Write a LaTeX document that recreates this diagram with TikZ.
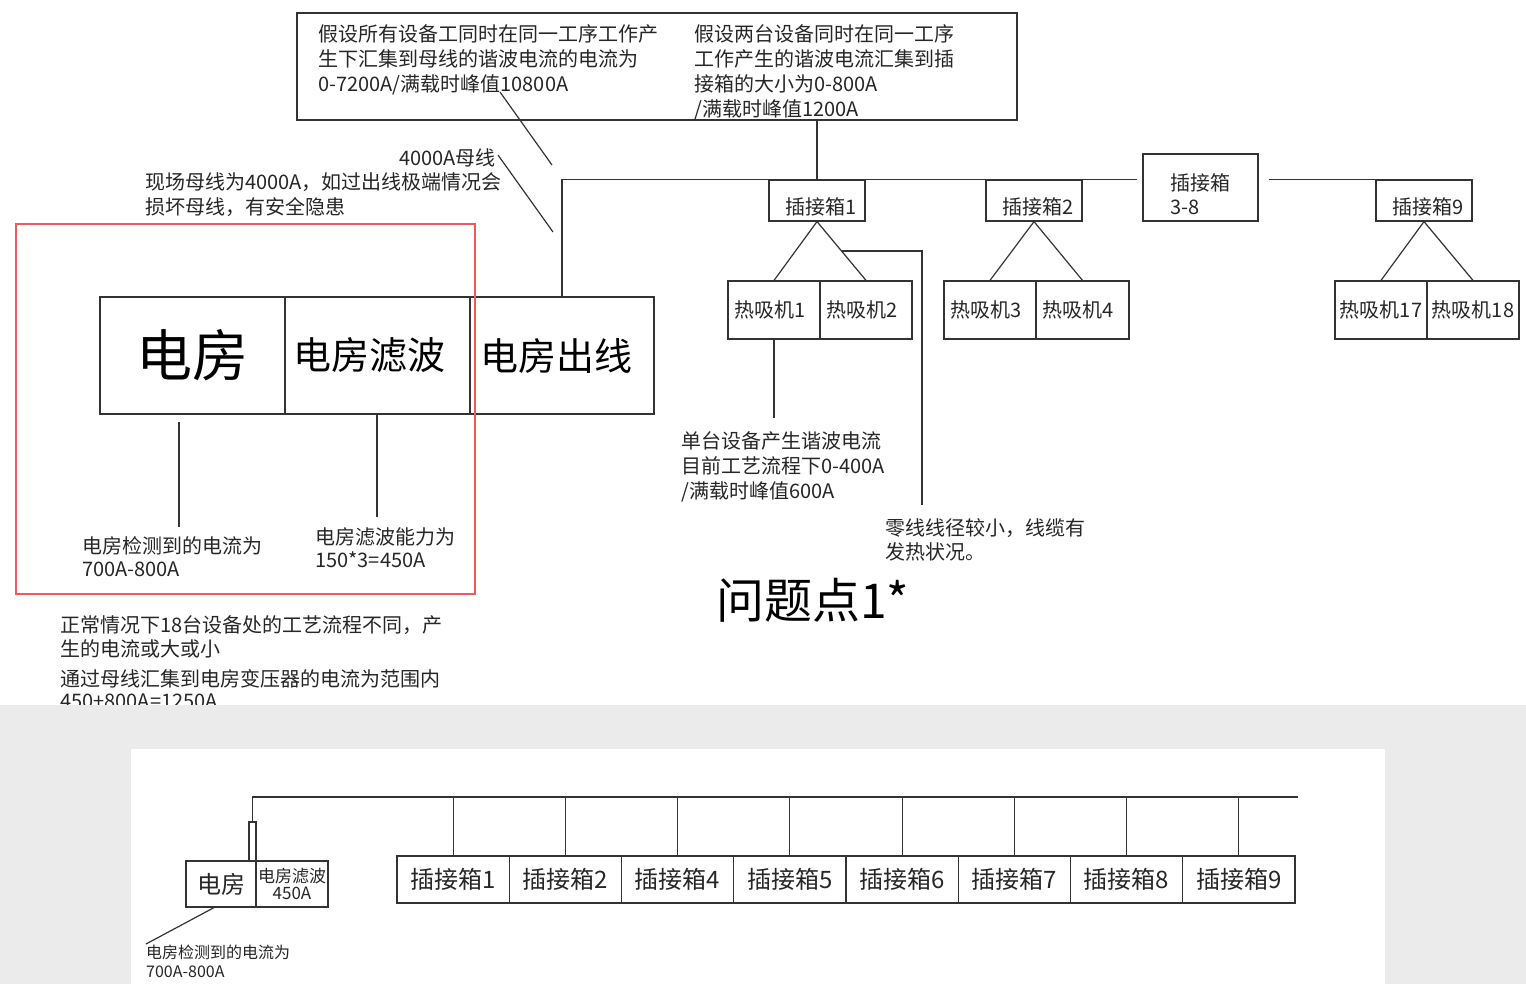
\documentclass[tikz,border=0pt]{standalone}
\usepackage{fontspec}
\setmainfont{Noto Sans CJK SC}
\usetikzlibrary{positioning,calc}
\definecolor{redframe}{RGB}{238,90,90}
\definecolor{backgray}{RGB}{235,235,235}

\tikzset{
  wire/.style={line width=1.2pt, draw=black!80},
  unit/.style={draw=black!80, line width=1.2pt, inner sep=0pt, minimum width=92pt, minimum height=58pt, text=black!85, font=\fontsize{20}{24}\selectfont},
  plug/.style={unit, minimum width=96pt, minimum height=41pt, text height=29pt, text depth=0pt},
  note/.style={anchor=north west, align=left, inner sep=0pt, text=black!85, font=\fontsize{20}{25}\selectfont},
}

\begin{document}
\begin{tikzpicture}[x=1pt,y=-1pt]
\useasboundingbox (0,0) rectangle (1526,984);

% upper sketch: assumptions
\node[draw=black!80, line width=1.2pt, minimum width=720pt, minimum height=107pt, inner sep=0pt] (assume) at (657,66.5) {};
\node[note] (allnote) at (318,24) {假设所有设备工同时在同一工序工作产\\生下汇集到母线的谐波电流的电流为\\0-7200A/满载时峰值10800A};
\node[note] (twonote) at (694,24) {假设两台设备同时在同一工序\\工作产生的谐波电流汇集到插\\接箱的大小为0-800A\\/满载时峰值1200A};

% electric room
\node[unit, minimum width=185pt, minimum height=117pt, text=black, font=\fontsize{56}{60}\selectfont] (room) at (192.5,355.5) {电房};
\node[unit, minimum width=185pt, minimum height=117pt, text=black, font=\fontsize{38}{40}\selectfont] (filter) at (377.5,355.5) {电房滤波\hspace*{16pt}};
\node[unit, minimum width=184pt, minimum height=117pt, text=black, font=\fontsize{38}{40}\selectfont] (outlet) at (562,355.5) {电房出线\hspace*{12pt}};

% plug boxes and units
\node[plug] (box1) at (817,200.5) {\hspace*{8pt}插接箱1};
\node[plug] (box2) at (1034,200.5) {\hspace*{8pt}插接箱2};
\node[unit, minimum width=115pt, minimum height=67pt, align=left, text height=54pt] (box38) at (1200.5,187.5) {插接箱\\3-8};
\node[plug] (box9) at (1424,200.5) {\hspace*{8pt}插接箱9};
\node[unit] (hp1) at (774,310) {热吸机1\hspace*{8pt}};
\node[unit] (hp2) at (866,310) {热吸机2\hspace*{8pt}};
\node[unit] (hp3) at (990,310) {热吸机3\hspace*{8pt}};
\node[unit, minimum width=93pt] (hp4) at (1082.5,310) {热吸机4\hspace*{8pt}};
\node[unit] (hp17) at (1381,310) {热吸机17};
\node[unit] (hp18) at (1473,310) {热吸机18};

% bus
\draw[wire] (assume.south -| box1.north) -- (box1.north);
\draw[wire] (outlet.north) |- ([xshift=-5pt]box38.west |- box1.north);
\draw[wire] ([xshift=10pt]box38.east |- box9.north) -- (box9.north west);
\foreach \b/\l/\r in {box1/hp1/hp2, box2/hp3/hp4, box9/hp17/hp18}
  \draw[wire] (\l.north) -- (\b.south) -- (\r.north);

% notes on the units
\coordinate (singleend) at (774,418);
\coordinate (zeroend) at (922,505);
\draw[wire] (hp1.south) -- (singleend);
\draw[wire] ($(box1.south)!0.5!(hp2.north)$) -| (zeroend);
\node[note] (single) at (681,431) {单台设备产生谐波电流\\目前工艺流程下0-400A\\/满载时峰值600A};
\node[note, font=\fontsize{20}{24}\selectfont] (zero) at (885,518) {零线线径较小，线缆有\\发热状况。};
\node[anchor=west, inner sep=0pt, text=black, font=\fontsize{48}{50}\selectfont] (issue) at (716,600) {问题点1*};

% bus notes
\node[note, anchor=north east] (busname) at (496,148) {4000A母线};
\node[note] (busrisk) at (145,172) {现场母线为4000A，如过出线极端情况会\\损坏母线，有安全隐患};
\coordinate (ptA) at (500,92);
\coordinate (ptB) at (552,165);
\coordinate (ptC) at (498,155);
\coordinate (ptD) at (553,232);
\draw[wire] (ptA) -- (ptB);
\draw[wire] (ptC) -- (ptD);

% room notes
\coordinate (roomend) at (179,527);
\coordinate (filterend) at (377,517);
\draw[wire] (room.south -| roomend) ++(0,7) -- (roomend);
\draw[wire] (filter.south -| filterend) -- (filterend);
\node[note, font=\fontsize{20}{23}\selectfont] (roomread) at (82,536) {电房检测到的电流为\\700A-800A};
\node[note, font=\fontsize{20}{23}\selectfont] (filtercap) at (315,527) {电房滤波能力为\\150*3=450A};
\draw[line width=1.5pt, draw=redframe] (16,224) rectangle (475,594);

\node[note, font=\fontsize{20}{24}\selectfont] (normal) at (60,615) {正常情况下18台设备处的工艺流程不同，产\\生的电流或大或小};
\node[note, font=\fontsize{20}{22}\selectfont] (total) at (60,669) {通过母线汇集到电房变压器的电流为范围内\\450+800A=1250A};

% lower sketch
\fill[backgray] (0,705) rectangle (1526,984);
\fill[white] (131,749) rectangle (1385,984);

\node[unit, minimum width=70pt, minimum height=46pt, font=\fontsize{24}{26}\selectfont] (roomB) at (221,884) {电房};
\node[unit, minimum width=72pt, minimum height=46pt, align=center, font=\fontsize{17}{17}\selectfont] (filterB) at (292,884) {电房滤波\\450A};
\node[unit, minimum width=7pt, minimum height=39pt] (stub) at (252.5,841.5) {};
\coordinate (busendB) at (1298,797);
\draw[wire] (stub.north) |- (busendB);
\foreach \n [count=\i] in {1,2,4,5,6,7,8,9} {
  \node[unit, minimum width=112.25pt, minimum height=47pt, font=\fontsize{24}{26}\selectfont] (plug\i) at ({397+112.25*(\i-0.5)},879.5) {插接箱\n};
  \draw[wire] (plug\i.north) -- (plug\i.north |- busendB);
}
\coordinate (readendB) at (146,944);
\draw[wire] ([xshift=-7pt]roomB.south) -- (readendB);
\node[note, font=\fontsize{16}{19}\selectfont] (roomreadB) at (146,945) {电房检测到的电流为\\700A-800A};
\end{tikzpicture}
\end{document}
